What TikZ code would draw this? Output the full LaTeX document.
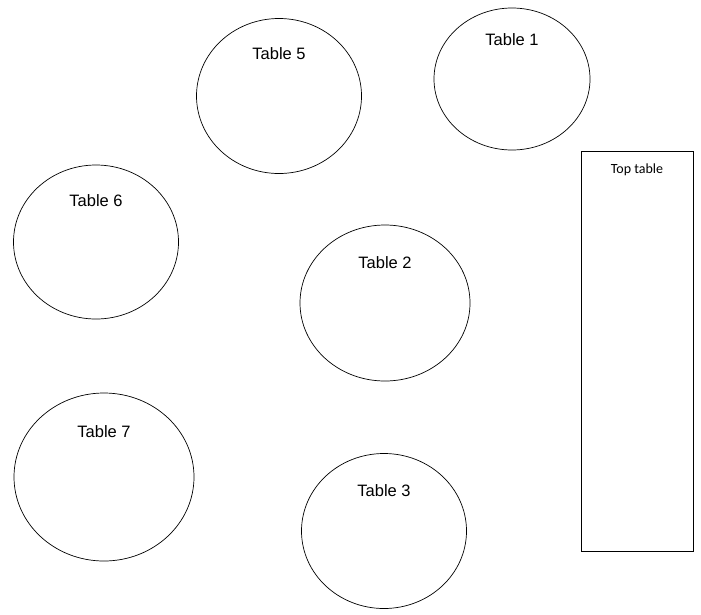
\documentclass[tikz,border=0pt]{standalone}
\usepackage{fontspec}
\setmainfont{Liberation Sans}
\newfontfamily\topfont{Carlito}
\usetikzlibrary{shapes.geometric}

\begin{document}
\begin{tikzpicture}[x=1pt,y=-1pt,
    roundtable/.style={draw,ellipse,inner sep=0pt,line width=0.7pt},
    tablename/.style={font=\fontsize{16.5}{19}\selectfont,inner sep=0pt}]
    \useasboundingbox (0,0) rectangle (701,614);
    % round tables: name/centre/width/height
    \foreach \n/\x/\y/\w/\h in {5/279/96/165/155,1/512/79/156/142,6/96/242/165/154,2/385/303/170/156,7/104/477/180/168,3/384/531/165/155}
    {
        \node[roundtable,minimum width=\w,minimum height=\h] (t\n) at (\x,\y) {};
    }
    \foreach \n/\x/\y in {5/279/54,1/512/40,6/96/201,2/385/263,7/104/432,3/384/491}
    {
        \node[tablename] (l\n) at (\x,\y) {Table \n};
    }
    % long table
    \node[draw,line width=0.7pt,minimum width=112,minimum height=400,inner sep=0pt] (top) at (637,351) {};
    \node[font=\topfont\fontsize{14}{16}\selectfont,inner sep=0pt] (ltop) at (637,170) {Top table};
\end{tikzpicture}
\end{document}
